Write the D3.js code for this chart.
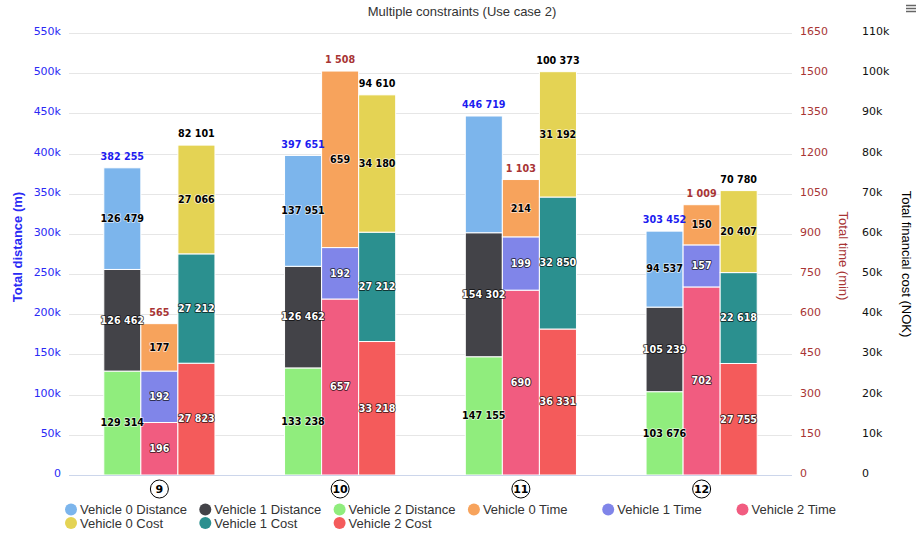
<!DOCTYPE html>
<html>
<head>
<meta charset="utf-8">
<script src="https://cdn.jsdelivr.net/npm/d3@7/dist/d3.min.js"></script>
<style>
  body { margin: 0; background: #fff; }
  svg { display: block; font-family: "DejaVu Sans", sans-serif; }
  .grid line { stroke: #e6e6e6; }
  .legend text { font-family: "Liberation Sans", sans-serif; font-size: 13px; fill: #333; }
</style>
</head>
<body>
<svg id="chart" width="917" height="533"></svg>
<script>
var categories = ['9', '10', '11', '12'];

// distance (m)
var distV0 = [126479, 137951, 145262, 94537];
var distV1 = [126462, 126462, 154302, 105239];
var distV2 = [129314, 133238, 147155, 103676];
// time (min)
var timeV0 = [177, 659, 214, 150];
var timeV1 = [192, 192, 199, 157];
var timeV2 = [196, 657, 690, 702];
// cost (NOK)
var costV0 = [27066, 34180, 31192, 20407];
var costV1 = [27212, 27212, 32850, 22618];
var costV2 = [27823, 33218, 36331, 27755];

var distTicks = d3.range(0, 550001, 50000);
var timeTicks = d3.range(0, 1651, 150);
var costTicks = d3.range(0, 110001, 10000);

var plotL = 69, plotR = 792, plotT = 33, plotB = 475;

var svg = d3.select('#chart');

var x = d3.scaleBand().domain(categories).range([plotL, plotR]);
var yDist = d3.scaleLinear().domain([0, 550000]).range([plotB, plotT]);
var yTime = d3.scaleLinear().domain([0, 1650]).range([plotB, plotT]);
var yCost = d3.scaleLinear().domain([0, 110000]).range([plotB, plotT]);

var fmt = function(v) { return d3.format(',')(v).replace(/,/g, ' '); };
var kfmt = function(v) { return v === 0 ? '0' : (v / 1000) + 'k'; };

// contrast text like highcharts' dataLabels
function contrast(c) {
  var rgb = d3.rgb(c);
  var lin = function(v) { v /= 255; return v <= 0.03928 ? v / 12.92 : Math.pow((v + 0.055) / 1.055, 2.4); };
  var L = 0.2126 * lin(rgb.r) + 0.7152 * lin(rgb.g) + 0.0722 * lin(rgb.b);
  return L > 0.35 ? '#000' : '#fff';
}

var stacks = [
  { axis: yDist, totalColor: '#1c1cf0', names: ['Vehicle 0 Distance', 'Vehicle 1 Distance', 'Vehicle 2 Distance'],
    values: [distV0, distV1, distV2], colors: ['#7cb5ec', '#434348', '#90ed7d'] },
  { axis: yTime, totalColor: '#a83434', names: ['Vehicle 0 Time', 'Vehicle 1 Time', 'Vehicle 2 Time'],
    values: [timeV0, timeV1, timeV2], colors: ['#f7a35c', '#8085e9', '#f15c80'] },
  { axis: yCost, totalColor: '#000', names: ['Vehicle 0 Cost', 'Vehicle 1 Cost', 'Vehicle 2 Cost'],
    values: [costV0, costV1, costV2], colors: ['#e4d354', '#2b908f', '#f45b5b'] }
];

// grid
svg.append('g').attr('class', 'grid')
  .selectAll('line').data(distTicks.slice(1)).enter().append('line')
  .attr('x1', plotL).attr('x2', plotR)
  .attr('y1', function(d) { return Math.round(yDist(d)) + 0.5; })
  .attr('y2', function(d) { return Math.round(yDist(d)) + 0.5; });

// title
svg.append('text').attr('x', 462).attr('y', 16).attr('text-anchor', 'middle')
  .style('font-family', '"Liberation Sans", sans-serif').style('font-size', '13px').style('fill', '#333')
  .text('Multiple constraints (Use case 2)');

// menu icon
svg.append('g').selectAll('line').data([0, 1, 2]).enter().append('line')
  .attr('x1', 906).attr('x2', 916)
  .attr('y1', function(d) { return 5.5 + d * 3; }).attr('y2', function(d) { return 5.5 + d * 3; })
  .attr('stroke', '#666').attr('stroke-width', 1.5);

// bars
var bw = x.bandwidth(), gw = bw * 0.615, pw = gw / 3;
var totals = [], segs = [];

stacks.forEach(function(st, si) {
  var rows = categories.map(function(c, ci) {
    return { cat: c, v0: st.values[0][ci], v1: st.values[1][ci], v2: st.values[2][ci] };
  });
  var series = d3.stack().keys(['v2', 'v1', 'v0'])(rows);
  var g = svg.append('g');
  series.forEach(function(s) {
    var col = st.colors[+s.key.slice(1)];
    g.selectAll(null).data(s).enter().append('rect')
      .attr('x', function(d) { return x(d.data.cat) + (bw - gw) / 2 + si * pw; })
      .attr('width', pw)
      .attr('y', function(d) { return st.axis(d[1]); })
      .attr('height', function(d) { return st.axis(d[0]) - st.axis(d[1]); })
      .attr('fill', col).attr('stroke', '#fff').attr('stroke-width', 1);
    s.forEach(function(d) {
      segs.push({ x: x(d.data.cat) + (bw - gw) / 2 + si * pw + pw / 2,
                  y: (st.axis(d[0]) + st.axis(d[1])) / 2,
                  text: fmt(d[1] - d[0]), color: contrast(col) });
    });
  });
  rows.forEach(function(r) {
    var tot = r.v0 + r.v1 + r.v2;
    totals.push({ x: x(r.cat) + (bw - gw) / 2 + si * pw + pw / 2,
                  y: st.axis(tot) - 11, text: fmt(tot), color: st.totalColor });
  });
});

// stack totals
var tg = svg.append('g').style('font-size', '9.6px').style('font-weight', 'bold');
var totalNodes = tg.selectAll('text').data(totals).enter().append('text')
  .attr('x', function(d) { return d.x; }).attr('y', function(d) { return d.y; })
  .attr('text-anchor', 'middle').attr('dy', '0.35em')
  .attr('fill', function(d) { return d.color; })
  .text(function(d) { return d.text; });

// segment labels, hidden where they run into a stack total (with a little side padding)
var pad = 2;
var boxes = totalNodes.nodes().map(function(n) { return n.getBBox(); });
var sg = svg.append('g').style('font-size', '9.6px').style('font-weight', 'bold');
sg.selectAll('text').data(segs).enter().append('text')
  .attr('x', function(d) { return d.x; }).attr('y', function(d) { return d.y; })
  .attr('text-anchor', 'middle').attr('dy', '0.35em')
  .attr('fill', function(d) { return d.color; })
  .attr('stroke', function(d) { return d.color === '#000' ? 'rgba(255,255,255,0.7)' : 'rgba(0,0,0,0.8)'; })
  .attr('stroke-width', 1.6).attr('paint-order', 'stroke').attr('stroke-linejoin', 'round')
  .text(function(d) { return d.text; })
  .each(function() {
    var b = this.getBBox();
    var hit = boxes.some(function(o) {
      return b.x - pad < o.x + o.width + pad && o.x - pad < b.x + b.width + pad &&
             b.y < o.y + o.height && o.y < b.y + b.height;
    });
    if (hit) d3.select(this).remove();
  });

// x axis
svg.append('line').attr('x1', plotL).attr('x2', plotR)
  .attr('y1', plotB + 0.5).attr('y2', plotB + 0.5).attr('stroke', '#ccd6eb');

var xl = svg.append('g').selectAll('g').data(categories).enter().append('g')
  .attr('transform', function(d) { return 'translate(' + (x(d) + bw / 2) + ',489)'; });
xl.append('circle').attr('r', 9).attr('fill', '#fff').attr('stroke', '#000');
xl.append('text').attr('text-anchor', 'middle').attr('dy', '0.36em')
  .style('font-size', '11px').style('font-weight', 'bold').attr('fill', '#000')
  .text(function(d) { return d; });

// y axes
function yLabels(scale, ticks, xpos, anchor, color, f) {
  svg.append('g').selectAll('text').data(ticks).enter().append('text')
    .attr('x', xpos).attr('y', function(d) { return scale(d) - 1.5; })
    .attr('dy', '0.32em').attr('text-anchor', anchor)
    .style('font-size', '11px').attr('fill', color)
    .text(f);
}
yLabels(yDist, distTicks, 61, 'end', '#2a2af5', kfmt);
yLabels(yTime, timeTicks, 800, 'start', '#a83434', function(d) { return d; });
yLabels(yCost, costTicks, 862, 'start', '#111', kfmt);

function axisTitle(txt, xpos, ypos, rot, color, weight) {
  svg.append('text')
    .attr('transform', 'translate(' + xpos + ',' + ypos + ') rotate(' + rot + ')')
    .attr('text-anchor', 'middle').attr('dy', '0.35em')
    .style('font-family', '"Liberation Sans", sans-serif')
    .style('font-size', '13px').style('font-weight', weight).attr('fill', color)
    .text(txt);
}
axisTitle('Total distance (m)', 17, 247, -90, '#2a2af5', 'bold');
axisTitle('Total time (min)', 844, 256, 90, '#a83434', 'normal');
axisTitle('Total financial cost (NOK)', 907, 264, 90, '#000', 'normal');

// legend
var legendItems = [];
stacks.forEach(function(st) { st.names.forEach(function(n, i) { legendItems.push({ name: n, color: st.colors[i] }); }); });
var lg = svg.append('g').attr('class', 'legend');
var li = lg.selectAll('g').data(legendItems).enter().append('g')
  .attr('transform', function(d, i) {
    return 'translate(' + (71 + (i % 6) * 134.3) + ',' + (509.5 + Math.floor(i / 6) * 13.5) + ')';
  });
li.append('circle').attr('r', 6).attr('fill', function(d) { return d.color; });
li.append('text').attr('x', 9).attr('dy', '0.35em').text(function(d) { return d.name; });
</script>
</body>
</html>
